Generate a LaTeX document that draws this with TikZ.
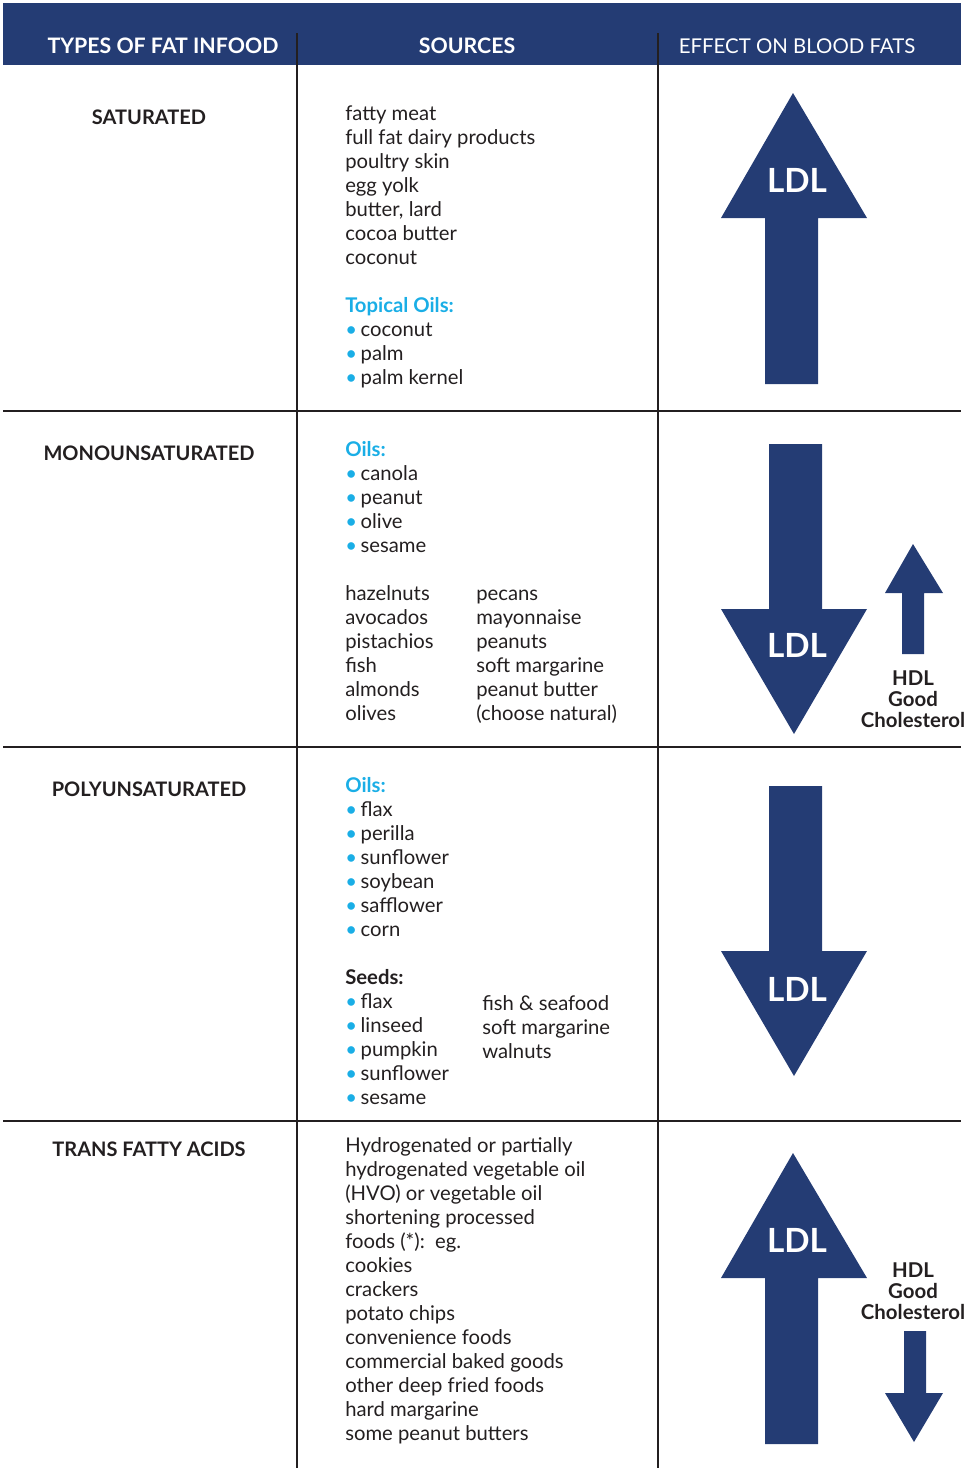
\documentclass[tikz,border=0pt]{standalone}
\usepackage{fontspec}
\setmainfont{Lato}
\usepackage{tikz}
\definecolor{fatBlue}{HTML}{243C74}
\definecolor{fatCyan}{HTML}{1AAEE6}
\definecolor{fatInk}{HTML}{231F20}
\newcommand{\bul}{{\color{fatCyan}\textbullet}\hspace{0.18em}}
\tikzset{
  src/.style={anchor=base west, inner sep=0pt, text=fatInk, font=\fontsize{15.2}{17}\selectfont},
  srchead/.style={src, font=\fontsize{15.2}{17}\selectfont\bfseries},
  rowtitle/.style={anchor=base, inner sep=0pt, text=fatInk, font=\fontsize{15}{17}\selectfont\bfseries},
  headtext/.style={anchor=base, inner sep=0pt, text=white, font=\fontsize{15.3}{18}\selectfont},
  ldl/.style={inner sep=0pt, text=white, font=\fontsize{25}{30}\selectfont\bfseries},
  hdl/.style={align=center, inner sep=0pt, text=fatInk, font=\fontsize{15.3}{15.75}\selectfont\bfseries},
  rule/.style={line width=1.5pt, fatInk},
}

\begin{document}
\begin{tikzpicture}[x=0.75pt, y=-0.75pt]
  \useasboundingbox (0,0) rectangle (968,1468);
  % ------- header band -------
  \fill[fatBlue] (3,3) rectangle (961,65);
  \node[headtext, font=\fontsize{16}{18}\selectfont\bfseries] (hType) at (163,53) {TYPES OF FAT INFOOD};
  \node[headtext, font=\fontsize{16}{18}\selectfont\bfseries] (hSrc) at (467,53) {SOURCES};
  \node[headtext] (hEff) at (797,53) {EFFECT ON BLOOD FATS};
  % ------- grid -------
  \draw[rule] (297,33) -- (297,1468);
  \draw[rule] (658,33) -- (658,1468);
  \draw[line width=1pt, fatInk] (3,411) -- (961,411);
  \draw[line width=1.8pt, fatInk] (3,747) -- (961,747);
  \draw[line width=1.4pt, fatInk] (3,1121) -- (961,1121);

  % ------- (1) saturated -------
  \node[rowtitle] (tSat) at (149,124) {SATURATED};
  \foreach \t [count=\i from 0] in {fatty meat,full fat dairy products,poultry skin,egg yolk,{butter, lard},cocoa butter,coconut}
    \node[src] (sat\i) at (345,{120+24*\i}) {\t};
  \node[srchead, text=fatCyan] (satTop) at (345,312) {Topical Oils:};
  \foreach \t [count=\i from 0] in {coconut,palm,palm kernel}
    \node[src] (satB\i) at (345,{336+24*\i}) {\bul\t};
  \fill[fatBlue] (765,384) -- (765,218) -- (721,218) -- (793,93) -- (867,218) -- (818,218) -- (818,384) -- cycle;
  \node[ldl] (ldlSat) at (797,180) {LDL};

  % ------- (2) monounsaturated -------
  \node[rowtitle] (tMono) at (149,460) {MONOUNSATURATED};
  \node[srchead, text=fatCyan] (monoOil) at (345,456) {Oils:};
  \foreach \t [count=\i from 0] in {canola,peanut,olive,sesame}
    \node[src] (monoB\i) at (345,{480+24*\i}) {\bul\t};
  \foreach \t [count=\i from 0] in {hazelnuts,avocados,pistachios,fish,almonds,olives}
    \node[src] (monoL\i) at (345,{600+24*\i}) {\t};
  \foreach \t [count=\i from 0] in {pecans,mayonnaise,peanuts,soft margarine,peanut butter,(choose natural)}
    \node[src] (monoR\i) at (476,{600+24*\i}) {\t};
  \fill[fatBlue] (769,444) -- (822,444) -- (822,609) -- (867,609) -- (794,734) -- (721,609) -- (769,609) -- cycle;
  \node[ldl] (ldlMono) at (797,645) {LDL};
  \fill[fatBlue] (902,654) -- (902,593) -- (885,593) -- (913,544) -- (943,593) -- (924,593) -- (924,654) -- cycle;
  \node[hdl] (hdlMono) at (913,699) {HDL\\Good\\Cholesterol};

  % ------- (3) polyunsaturated -------
  \node[rowtitle] (tPoly) at (149,796) {POLYUNSATURATED};
  \node[srchead, text=fatCyan] (polyOil) at (345,792) {Oils:};
  \foreach \t [count=\i from 0] in {flax,perilla,sunflower,soybean,safflower,corn}
    \node[src] (polyB\i) at (345,{816+24*\i}) {\bul\t};
  \node[srchead] (polySeed) at (345,984) {Seeds:};
  \foreach \t [count=\i from 0] in {flax,linseed,pumpkin,sunflower,sesame}
    \node[src] (polyS\i) at (345,{1008+24*\i}) {\bul\t};
  \foreach \t [count=\i from 0] in {fish \& seafood,soft margarine,walnuts}
    \node[src] (polyR\i) at (482,{1010+24*\i}) {\t};
  \fill[fatBlue] (769,786) -- (822,786) -- (822,951) -- (867,951) -- (794,1076) -- (721,951) -- (769,951) -- cycle;
  \node[ldl] (ldlPoly) at (797,989) {LDL};

  % ------- (4) trans fatty acids -------
  \node[rowtitle] (tTrans) at (149,1156) {TRANS FATTY ACIDS};
  \foreach \t [count=\i from 0] in {Hydrogenated or partially,hydrogenated vegetable oil,(HVO) or vegetable oil,shortening processed,foods (*):\ \ eg.,cookies,crackers,potato chips,convenience foods,commercial baked goods,other deep fried foods,hard margarine,some peanut butters}
    \node[src] (trans\i) at (345,{1152+24*\i}) {\t};
  \fill[fatBlue] (765,1444) -- (765,1278) -- (721,1278) -- (793,1153) -- (867,1278) -- (818,1278) -- (818,1444) -- cycle;
  \node[ldl] (ldlTrans) at (797,1240) {LDL};
  \node[hdl] (hdlTrans) at (913,1291) {HDL\\Good\\Cholesterol};
  \fill[fatBlue] (904,1331) -- (926,1331) -- (926,1393) -- (943,1393) -- (914,1442) -- (885,1393) -- (904,1393) -- cycle;
\end{tikzpicture}
\end{document}
